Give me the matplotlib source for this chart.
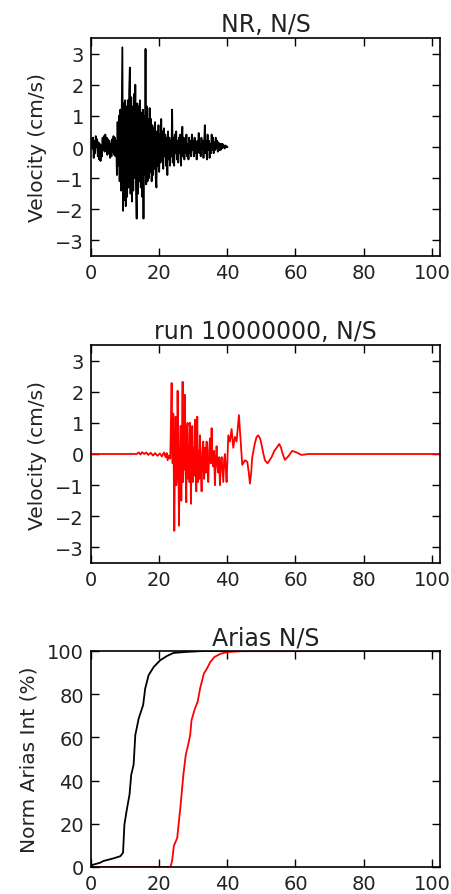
import numpy as np
import matplotlib
matplotlib.use("Agg")
import matplotlib.pyplot as plt

# ---------------- data ----------------
# Recorded (NR) N/S velocity, cm/s, sampled every nr_dt seconds starting at 0
nr_dt = 0.2
nr_vel = [
    0.05, 0.25, -0.05, 0.3, -0.35, 0.2, -0.2, 0.35, 0.0, 0.25,
    -0.3, 0.15, -0.4, 0.1, -0.45, 0.05, -0.3, 0.3, -0.1, 0.35,
    -0.15, 0.4, 0.0, 0.3, -0.25, 0.25, -0.2, 0.2, -0.35, 0.1,
    -0.3, 0.25, -0.15, 0.35, -0.25, 0.3, -0.3, 0.2,
    -0.9, 0.8, -0.6, 1.0, -1.1, 1.2, -1.4, 0.9, 3.2, -2.05,
    1.4, -1.7, 1.5, -1.9, 1.3, -1.6, 1.5, -1.3, 1.8, 2.55,
    -1.5, 1.6, -1.75, 1.3, -1.4, 1.7, -1.0, 2.0, -1.2, -2.3,
    1.4, -1.5, 1.3, -1.1, 1.5, -1.3, 1.1, -1.6, 1.2, -2.3,
    1.0, -0.9, 3.15, -1.2, 1.3, -1.1, 0.9, -1.0, 1.25, -0.8,
    0.9, -1.1, 0.7, -0.9, 0.6, -0.7, 0.8, -1.0, -1.3, 0.5,
    -0.6, 0.7, -0.8, 0.4, -0.5, 0.9, -0.4, 0.5, -0.7, 0.6,
    -0.3, 0.4, -0.6, 0.3, -0.9, 0.5, -0.4, 0.3, -0.6, 0.2,
    -0.3, 1.2, -0.5, 0.3, -0.6, 0.4, -0.2, 0.5, -0.4, 0.2,
    -0.5, 0.3, -0.2, 0.4, -0.6, 0.2, 0.65, -0.3, 0.3, -0.4,
    0.2, -0.2, 0.4, -0.3, 0.1, -0.4, 0.3, -0.2, 0.2, -0.3,
    0.4, -0.1, 0.2, -0.3, 0.3, -0.2, 0.1, -0.4, 0.2, -0.1,
    0.45, -0.2, 0.1, -0.3, 0.3, -0.1, 0.2, -0.35, 0.1, 0.7,
    -0.2, 0.2, -0.4, 0.4, -0.1, 0.2, -0.35, 0.1, -0.2, 0.4,
    -0.1, 0.3, -0.2, 0.15, -0.1, 0.3, -0.05, 0.2, -0.15, 0.15,
    -0.1, 0.1, -0.1, 0.1, -0.05, 0.1, 0.0, 0.05, -0.05, 0.05,
    0.0, 0.02, 0.0,
]

# Simulated run 10000000 N/S velocity (time s, velocity cm/s)
run_t = [
    0.0, 13.4, 14.0, 14.5, 15.0, 15.6, 16.2, 16.8, 17.5, 18.2, 18.8, 19.5,
    20.2, 20.8, 21.4, 21.9, 22.2, 22.48, 22.87, 23.26, 23.66, 23.80, 23.95,
    24.14, 24.44, 24.62, 24.83, 25.02, 25.22, 25.41, 25.60, 25.81, 26.05,
    26.30, 26.49, 26.70, 26.88, 27.03, 27.18, 27.35, 27.57, 27.75, 27.96,
    28.15, 28.35, 28.55, 28.74, 28.90, 29.03, 29.18, 29.33, 29.50, 29.72,
    29.90, 30.11, 30.30, 30.50, 30.70, 30.89, 31.05, 31.18, 31.38, 31.57,
    31.75, 31.96, 32.20, 32.45, 32.70, 32.94, 33.20, 33.43, 33.65, 33.92,
    34.15, 34.41, 34.65, 34.90, 35.15, 35.39, 35.60, 35.87, 36.10, 36.36,
    36.60, 36.85, 37.10, 37.34, 37.60, 37.83, 38.10, 38.32, 38.55, 38.81,
    39.05, 39.30, 39.55, 39.79, 40.28, 40.76, 41.25, 41.74, 42.23, 42.72,
    43.40, 43.99, 44.38, 45.16, 45.85, 46.30, 46.63, 47.00, 47.31, 48.09,
    48.60, 49.07, 49.60, 50.05, 50.50, 51.03, 51.81, 52.40, 52.98, 53.80,
    54.45, 55.23, 55.70, 56.11, 56.89, 57.50, 58.06, 59.04, 60.31, 61.78,
    63.73, 102.4,
]
run_vel = [
    0.0, 0.0, 0.05, -0.02, 0.06, 0.0, 0.05, -0.03, 0.04, -0.05, 0.03, -0.06,
    0.02, -0.08, 0.05, -0.1, 0.03, -0.2, -0.05, -0.15, 2.28, 0.4, -0.3,
    1.3, -2.47, -0.2, 1.2, -1.0, -0.6, 2.03, 0.2, -2.3, -0.4,
    0.9, -1.5, 0.3, 2.32, -0.9, 1.5, -0.5, 1.9, -0.4, -1.55,
    0.8, 1.0, -0.8, 0.3, -0.9, 1.0, -0.4, -1.6, 0.4, 0.9,
    -0.9, 0.2, -0.7, 1.1, -0.2, -1.2, 0.3, 1.2, -0.9, 0.1,
    -0.8, 0.6, -0.4, -1.2, 0.1, 0.4, -0.8, 0.2, -0.6, 0.4,
    -0.4, -0.9, 0.1, 0.5, -0.3, 0.83, -0.2, -0.4, 0.1, -1.0,
    -0.2, 0.25, -0.4, -0.6, -0.1, -1.0, -0.3, -0.1, -0.5, -0.9,
    -0.2, 0.0, -0.5, -0.9, 0.6, 0.4, 0.8, 0.2, 0.55, 0.4,
    1.25, 0.3, -0.35, -0.2, -0.25, -0.6, -0.95, -0.6, -0.1, 0.35,
    0.55, 0.6, 0.5, 0.3, 0.05, -0.2, -0.3, -0.2, -0.1, 0.1,
    0.2, 0.32, 0.22, 0.05, -0.19, -0.12, -0.05, 0.1, 0.05, -0.03,
    0.0, 0.0,
]

# Normalised Arias intensity (%)
arias_nr_t = [0.0, 0.5, 2.7, 3.7, 6.6, 8.6, 9.4, 9.8, 10.5, 11.3, 11.8, 12.5,
              13.0, 14.0, 15.3, 15.9, 16.9, 18.4, 20.3, 22.3, 24.2, 28.1,
              32.0, 34.0, 40.0]
arias_nr = [0.0, 1.0, 2.0, 2.8, 4.0, 5.0, 6.6, 19.6, 26.5, 33.5, 42.7, 47.3,
            61.1, 68.8, 75.0, 82.6, 88.8, 92.6, 95.7, 97.7, 99.1, 99.6,
            99.9, 100.0, 100.0]
arias_run_t = [0.0, 23.3, 23.8, 24.3, 25.3, 25.8, 26.3, 27.1, 27.8, 28.5,
               29.1, 29.5, 30.5, 31.3, 32.0, 33.1, 34.0, 35.0, 36.2, 38.1,
               40.1, 44.0, 102.4]
arias_run = [0.0, 0.0, 2.8, 9.7, 13.5, 21.2, 28.8, 42.7, 51.9, 56.5,
             61.1, 68.0, 73.4, 76.5, 82.6, 89.5, 91.8, 94.9, 97.2, 98.8,
             99.5, 99.9, 100.0]

titles = ["NR, N/S", "run 10000000, N/S", "Arias N/S"]
vel_label = "Velocity (cm/s)"
arias_label = "Norm Arias Int (%)"
x_ticks = [0, 20, 40, 60, 80, 100]
vel_ticks = [-3, -2, -1, 0, 1, 2, 3]
arias_ticks = [0, 20, 40, 60, 80, 100]

# ---------------- plot ----------------
plt.rcParams['font.family'] = ['DejaVu Sans']
W, H = 452, 895
fig = plt.figure(figsize=(W / 100, H / 100), dpi=100, facecolor='white')

left = 91 / W
width = 349 / W
boxes = [
    (left, 1 - 257 / H, width, 218 / H),
    (left, 1 - 564 / H, width, 218 / H),
    (left, 1 - 868 / H, width, 216 / H),
]
axes = [fig.add_axes(b) for b in boxes]

nr_t = np.arange(len(nr_vel)) * nr_dt
axes[0].plot(nr_t, nr_vel, color='black', lw=1.3)
axes[1].plot(run_t, run_vel, color='red', lw=1.3)
axes[2].plot(arias_nr_t, arias_nr, color='black', lw=1.3)
axes[2].plot(arias_run_t, arias_run, color='red', lw=1.3)

for i, ax in enumerate(axes):
    ax.set_xlim(0, 102.4)
    ax.set_xticks(x_ticks)
    ax.set_title(titles[i], fontsize=17, pad=5, color='#222222')
    ax.tick_params(direction='in', top=True, right=True, length=6, width=1,
                   labelsize=14, pad=5, labelcolor='#222222')
    for s in ax.spines.values():
        s.set_linewidth(1.2)
    if i < 2:
        ax.set_ylim(-3.5, 3.5)
        ax.set_yticks(vel_ticks)
        ax.set_ylabel(vel_label, fontsize=14.5, labelpad=6, color='#222222')
    else:
        ax.set_ylim(0, 100)
        ax.set_yticks(arias_ticks)
        ax.set_ylabel(arias_label, fontsize=14.5, labelpad=6, color='#222222')

fig.savefig("out.png", dpi=100, facecolor='white')
